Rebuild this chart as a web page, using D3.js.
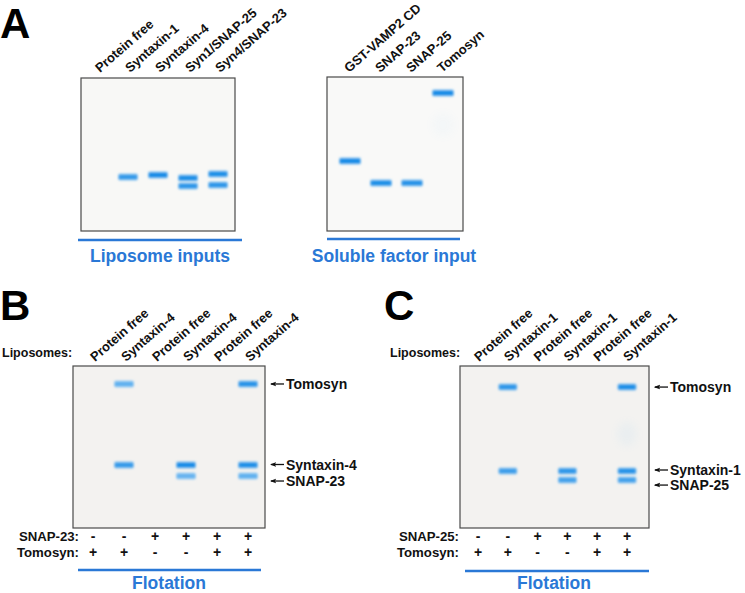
<!DOCTYPE html>
<html><head><meta charset="utf-8">
<script src="https://cdn.jsdelivr.net/npm/d3@7"></script>
<style>
body{margin:0;background:#fff}
svg{display:block;font-family:"Liberation Sans",Arial,sans-serif;font-weight:bold}
</style>
</head><body>
<svg id="c" width="745" height="593"></svg>
<script>
// ---- DATA ----
// bands: [lane index, relative migration (0 = gel top, 1 = gel bottom), intensity]
const lanesA1 = ["Protein free","Syntaxin-1","Syntaxin-4","Syn1/SNAP-25","Syn4/SNAP-23"];
const bandsA1 = [[1,0.647,0.8],[2,0.634,1],[3,0.654,0.95],[3,0.706,0.85],[4,0.627,0.95],[4,0.699,0.85]];
const lanesA2 = ["GST-VAMP2 CD","SNAP-23","SNAP-25","Tomosyn"];
const bandsA2 = [[0,0.545,1],[1,0.688,0.95],[2,0.688,0.9],[3,0.104,1]];
const smearsA2 = [[3,0.31,0.04]];
const lanesB = ["Protein free","Syntaxin-4","Protein free","Syntaxin-4","Protein free","Syntaxin-4"];
const bandsB = [[1,0.111,0.5],[1,0.611,0.8],[3,0.611,1],[3,0.679,0.45],[5,0.111,0.9],[5,0.611,0.95],[5,0.679,0.5]];
const markersB = ["Tomosyn","Syntaxin-4","SNAP-23"];
const markerPosB = [0.111,0.608,0.71];
const condLabelB = ["SNAP-23:","Tomosyn:"];
const snapB = ["-","-","+","+","+","+"];
const tomoB = ["+","+","-","-","+","+"];
const lanesC = ["Protein free","Syntaxin-1","Protein free","Syntaxin-1","Protein free","Syntaxin-1"];
const bandsC = [[1,0.13,0.85],[1,0.648,0.75],[3,0.648,0.85],[3,0.704,0.7],[5,0.13,0.95],[5,0.648,0.9],[5,0.704,0.7]];
const smearsC = [[5,0.42,0.08]];
const markersC = ["Tomosyn","Syntaxin-1","SNAP-25"];
const markerPosC = [0.13,0.642,0.735];
const condLabelC = ["SNAP-25:","Tomosyn:"];
const snapC = ["-","-","+","+","+","+"];
const tomoC = ["+","+","-","-","+","+"];
const panelLetters = ["A","B","C"];
const titles = ["Liposome inputs","Soluble factor input","Flotation","Flotation"];

// ---- DRAW ----
const svg = d3.select("#c");
const defs = svg.append("defs");
defs.append("filter").attr("id","blur").attr("x","-30%").attr("y","-100%").attr("width","160%").attr("height","300%")
  .append("feGaussianBlur").attr("stdDeviation",0.9);
defs.append("filter").attr("id","blur2").attr("x","-100%").attr("y","-100%").attr("width","300%").attr("height","300%")
  .append("feGaussianBlur").attr("stdDeviation",4);
defs.append("marker").attr("id","arr").attr("viewBox","0 0 10 10").attr("refX",2).attr("refY",5)
  .attr("markerWidth",5).attr("markerHeight",5).attr("orient","auto").attr("markerUnits","strokeWidth")
  .append("path").attr("d","M0,5 L10,1.5 L8,5 L10,8.5 Z").attr("fill","#111");

const blue = "#2a78d6";
const bandCol = d3.interpolateRgb("#a9d6f7","#188be6");
const ANG = -41;

function drawGel(cfg){
  const g = svg.append("g");
  const y = d3.scaleLinear().domain([0,1]).range([cfg.y0,cfg.y1]);
  const x = d3.scalePoint().domain(d3.range(cfg.lanes.length)).range(cfg.laneRange);
  g.append("rect").attr("x",cfg.x0).attr("y",cfg.y0).attr("width",cfg.x1-cfg.x0).attr("height",cfg.y1-cfg.y0)
    .attr("fill",cfg.bg).attr("stroke","#4a4a4a").attr("stroke-width",1.2);
  (cfg.smears||[]).forEach(s=>{
    g.append("ellipse").attr("cx",x(s[0])).attr("cy",y(s[1])).attr("rx",cfg.bandW/2).attr("ry",12)
      .attr("fill","#7fc0ee").attr("opacity",s[2]).attr("filter","url(#blur2)");
  });
  const bg = g.selectAll(".band").data(cfg.bands).join("g").attr("filter","url(#blur)");
  bg.append("rect").attr("x",d=>x(d[0])-cfg.bandW/2).attr("y",d=>y(d[1])-cfg.bandH/2-1)
    .attr("width",cfg.bandW).attr("height",cfg.bandH+2).attr("rx",2)
    .attr("fill",d=>bandCol(d[2]*0.6)).attr("opacity",0.8);
  bg.append("rect").attr("x",d=>x(d[0])-cfg.bandW/2+1).attr("y",d=>y(d[1])-cfg.bandH/2+0.5)
    .attr("width",cfg.bandW-2).attr("height",cfg.bandH-1).attr("rx",1.5)
    .attr("fill",d=>bandCol(d[2]));
  // lane labels
  g.selectAll(".ll").data(cfg.lanes).join("text")
    .attr("transform",(d,i)=>`translate(${x(i)+cfg.labDx},${cfg.labY}) rotate(${ANG})`)
    .attr("font-size",cfg.labFs).attr("fill","#111").text(d=>d);
  // markers
  if(cfg.markers){
    cfg.markers.forEach((m,i)=>{
      const yy = y(cfg.markerPos[i]);
      g.append("line").attr("x1",cfg.x1+6).attr("x2",cfg.x1+19).attr("y1",yy).attr("y2",yy)
        .attr("stroke","#111").attr("stroke-width",1.3).attr("marker-start","url(#arr)");
      g.append("text").attr("x",cfg.x1+21).attr("y",yy).attr("dy","0.36em")
        .attr("font-size",14).attr("fill","#111").text(m);
    });
  }
  // conditions
  if(cfg.cond){
    cfg.cond.forEach((row,r)=>{
      const yy = cfg.condY[r];
      g.append("text").attr("x",cfg.condLabX).attr("y",yy).attr("text-anchor","end")
        .attr("font-size",13.2).attr("fill","#111").text(cfg.condLabels[r]);
      g.selectAll(null).data(row).join("text").attr("x",(d,i)=>x(i)).attr("y",yy)
        .attr("text-anchor","middle").attr("fill","#111").attr("font-size",14).text(d=>d);
    });
  }
  if(cfg.liposomeX!==undefined){
    g.append("text").attr("x",cfg.liposomeX).attr("y",357).attr("font-size",12.5).attr("fill","#111").text("Liposomes:");
  }
  // blue underline + title
  g.append("line").attr("x1",cfg.lineX[0]).attr("x2",cfg.lineX[1]).attr("y1",cfg.lineY).attr("y2",cfg.lineY)
    .attr("stroke",blue).attr("stroke-width",2.4);
  g.append("text").attr("x",cfg.titleX).attr("y",cfg.titleY).attr("text-anchor","middle")
    .attr("font-size",17.5).attr("fill",blue).text(cfg.title);
}

drawGel({x0:81,x1:235,y0:78,y1:231,lanes:lanesA1,laneRange:[98,218],bands:bandsA1,bg:"#f8f8f6",
  bandW:20,bandH:5,labDx:2,labY:73,labFs:13,lineX:[78,242],lineY:240,titleX:160,titleY:262,title:titles[0]});
drawGel({x0:327,x1:463,y0:77,y1:231,lanes:lanesA2,laneRange:[350,443],bands:bandsA2,smears:smearsA2,bg:"#f9f9f8",
  bandW:22,bandH:5,labDx:-1,labY:73,labFs:13,lineX:[327,460],lineY:239,titleX:394,titleY:262,title:titles[1]});
drawGel({x0:73,x1:265,y0:366,y1:528,lanes:lanesB,laneRange:[93,248],bands:bandsB,bg:"#f3f2f0",
  bandW:20,bandH:5,labDx:2,labY:362,labFs:13,markers:markersB,markerPos:markerPosB,
  cond:[snapB,tomoB],condY:[541,557],condLabels:condLabelB,condLabX:79,liposomeX:2,
  lineX:[78,261],lineY:570,titleX:169,titleY:589,title:titles[2]});
drawGel({x0:460,x1:649,y0:366,y1:528,lanes:lanesC,laneRange:[478,627],bands:bandsC,smears:smearsC,bg:"#f3f2f0",
  bandW:19,bandH:5,labDx:1,labY:362,labFs:13,markers:markersC,markerPos:markerPosC,
  cond:[snapC,tomoC],condY:[541,557],condLabels:condLabelC,condLabX:459,liposomeX:390,
  lineX:[465,649],lineY:571,titleX:554,titleY:589,title:titles[3]});

// panel letters
const letterPos = [[0,38],[0,320],[384,320]];
svg.selectAll(".pl").data(panelLetters).join("text")
  .attr("x",(d,i)=>letterPos[i][0]).attr("y",(d,i)=>letterPos[i][1])
  .attr("font-size",42).attr("fill","#000").text(d=>d);
</script>
</body></html>
